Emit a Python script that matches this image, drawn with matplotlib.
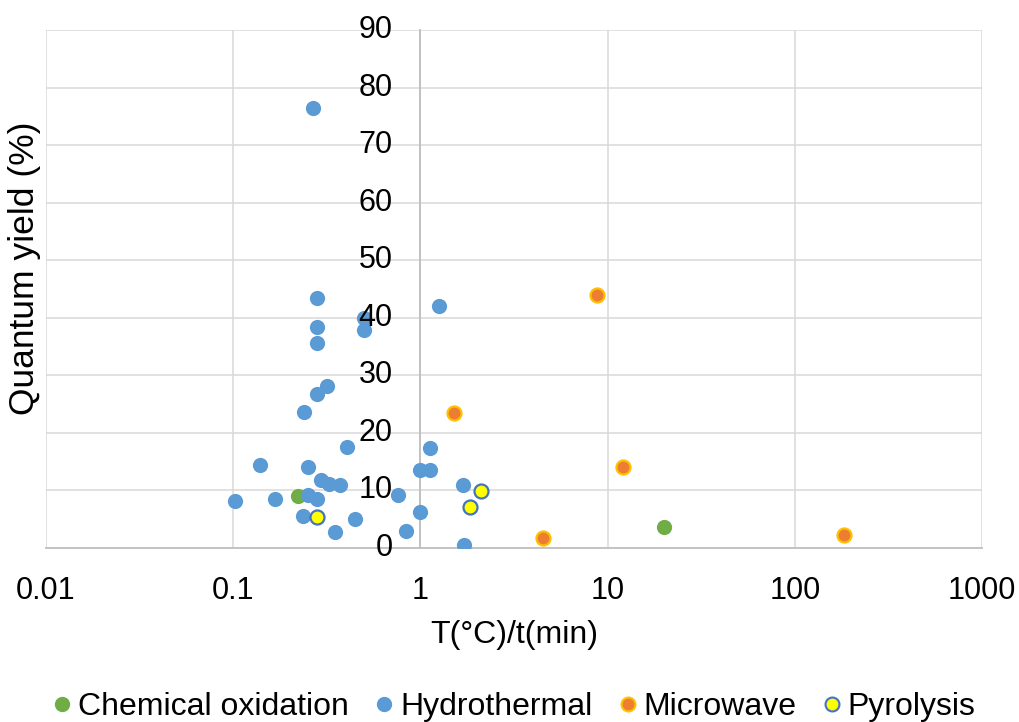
import matplotlib
matplotlib.use("Agg")
import matplotlib.pyplot as plt
from matplotlib.lines import Line2D
from matplotlib.ticker import FixedLocator, NullLocator

plt.rcParams['font.family'] = ['Liberation Sans', 'DejaVu Sans']

# ---- data ----
chem_x = [0.223, 20.0]
chem_y = [9.1, 3.6]

hydro_x = [0.266, 0.28, 0.28, 0.28, 0.317, 0.28, 0.24, 0.497, 0.50, 1.26,
           0.405, 0.1025, 0.139, 0.168, 0.250, 0.250, 0.280, 0.235, 0.294,
           0.323, 0.370, 0.351, 0.445, 0.760, 0.838, 1.0, 1.0, 1.12, 1.12,
           1.68, 1.70]
hydro_y = [76.4, 43.5, 38.4, 35.7, 28.1, 26.8, 23.6, 40.0, 37.9, 42.0,
           17.6, 8.2, 14.4, 8.5, 14.1, 9.2, 8.5, 5.6, 11.9,
           11.2, 10.9, 2.8, 5.1, 9.2, 3.0, 6.3, 13.6, 13.6, 17.4,
           10.9, 0.6]

micro_x = [8.73, 1.51, 12.1, 4.53, 183.0]
micro_y = [44.0, 23.4, 14.0, 1.7, 2.3]

pyro_x = [0.28, 2.11, 1.85]
pyro_y = [5.3, 9.9, 7.1]

x_ticks = [0.01, 0.1, 1, 10, 100, 1000]
x_tick_labels = ["0.01", "0.1", "1", "10", "100", "1000"]
y_ticks = [0, 10, 20, 30, 40, 50, 60, 70, 80, 90]

series_names = ["Chemical oxidation", "Hydrothermal", "Microwave", "Pyrolysis"]

# ---- style ----
C_GREEN = "#70AD47"
C_BLUE = "#5B9BD5"
C_ORANGE = "#ED7D31"
C_ORANGE_EDGE = "#FFC000"
C_YELLOW = "#FFFF00"
C_YELLOW_EDGE = "#4472C4"
GRID = "#D9D9D9"
AXIS = "#BFBFBF"
FS = 22

fig = plt.figure(figsize=(10.2, 7.22), dpi=100)
ax = fig.add_axes([46/1020, 1-548/722, (982-46)/1020, (548-30)/722])

ax.set_xscale('log')
ax.set_xlim(0.01, 1000)
ax.set_ylim(0, 90)
ax.xaxis.set_major_locator(FixedLocator(x_ticks))
ax.xaxis.set_minor_locator(NullLocator())
ax.set_xticklabels(x_tick_labels, fontsize=FS)
ax.yaxis.set_major_locator(FixedLocator(y_ticks))
ax.set_yticklabels([])

ax.set_axisbelow(True)
ax.grid(True, which='major', color=GRID, linewidth=1.1)
ax.tick_params(axis='both', length=0)
ax.tick_params(axis='x', pad=20)

for s in ['top', 'right']:
    ax.spines[s].set_visible(False)
ax.spines['left'].set_position(('data', 1))
ax.spines['left'].set_color(AXIS)
ax.spines['left'].set_linewidth(1.3)
ax.spines['bottom'].set_color(AXIS)
ax.spines['bottom'].set_linewidth(1.3)

# y tick labels drawn as text above markers
for yv in y_ticks:
    ax.annotate(str(yv), xy=(1, yv), xycoords='data', xytext=(-20, 0),
                textcoords='offset points', ha='right', va='center',
                fontsize=FS, zorder=10, annotation_clip=False)

S = 120
ax.scatter(chem_x, chem_y, s=S, color=C_GREEN, linewidths=0, zorder=3)
ax.scatter(hydro_x, hydro_y, s=S, color=C_BLUE, linewidths=0, zorder=3)
ax.scatter(micro_x, micro_y, s=S*0.85, color=C_ORANGE, edgecolors=C_ORANGE_EDGE,
           linewidths=1.6, zorder=3)
ax.scatter(pyro_x, pyro_y, s=S*0.85, color=C_YELLOW, edgecolors=C_YELLOW_EDGE,
           linewidths=1.6, zorder=3)

ax.set_xlabel("T(°C)/t(min)", fontsize=23, labelpad=10)
fig.text(25/1020, 1-268/722, "Quantum yield (%)", rotation=90, fontsize=25.5,
         ha='center', va='center')

handles = [
    Line2D([], [], marker='o', linestyle='none', markersize=10,
           markerfacecolor=C_GREEN, markeredgecolor=C_GREEN),
    Line2D([], [], marker='o', linestyle='none', markersize=10,
           markerfacecolor=C_BLUE, markeredgecolor=C_BLUE),
    Line2D([], [], marker='o', linestyle='none', markersize=10,
           markerfacecolor=C_ORANGE, markeredgecolor=C_ORANGE_EDGE, markeredgewidth=1.5),
    Line2D([], [], marker='o', linestyle='none', markersize=10,
           markerfacecolor=C_YELLOW, markeredgecolor=C_YELLOW_EDGE, markeredgewidth=1.5),
]
fig.legend(handles, series_names, loc='center', bbox_to_anchor=(515/1020, 1-707/722),
           ncol=4, frameon=False, fontsize=23, handlelength=0.5,
           handletextpad=0.25, columnspacing=0.85, borderpad=0)

fig.savefig("out.png", dpi=100)
